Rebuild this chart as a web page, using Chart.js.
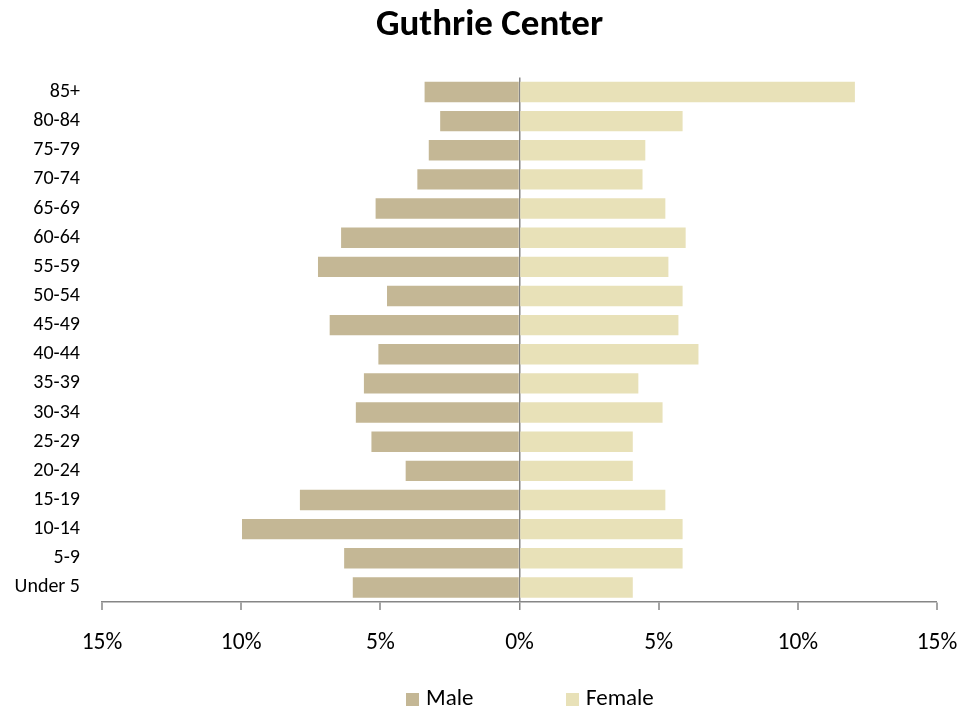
<!DOCTYPE html>
<html>
<head>
<meta charset="utf-8">
<script src="https://cdn.jsdelivr.net/npm/chart.js@4.4.1/dist/chart.umd.min.js"></script>
<style>
  html, body { margin: 0; padding: 0; background: #ffffff; }
  #wrap { width: 979px; height: 713px; }
</style>
</head>
<body>
<div id="wrap"><canvas id="c" width="979" height="713"></canvas></div>
<script>
const categories = ['85+', '80-84', '75-79', '70-74', '65-69', '60-64', '55-59', '50-54', '45-49', '40-44', '35-39', '30-34', '25-29', '20-24', '15-19', '10-14', '5-9', 'Under 5'];
const malePct = [3.41, 2.85, 3.26, 3.67, 5.17, 6.41, 7.24, 4.76, 6.82, 5.07, 5.59, 5.88, 5.32, 4.09, 7.89, 9.97, 6.30, 5.99];
const femalePct = [12.05, 5.86, 4.52, 4.42, 5.24, 5.97, 5.35, 5.86, 5.71, 6.43, 4.27, 5.14, 4.07, 4.07, 5.24, 5.86, 5.86, 4.07];
const xTicks = [-15, -10, -5, 0, 5, 10, 15];
const seriesNames = ['Male', 'Female'];
const seriesColors = ['#c4b795', '#e8e1b8'];
const titleText = 'Guthrie Center';

const FONT = "Carlito, Lato, 'Open Sans', sans-serif";

const customLegend = {
  id: 'customLegend',
  afterDraw(chart) {
    const ctx = chart.ctx;
    ctx.save();
    ctx.font = '23px ' + FONT;
    ctx.textBaseline = 'middle';
    ctx.textAlign = 'left';
    const starts = [406, 566];
    const yc = 699.5;
    seriesNames.forEach((name, i) => {
      ctx.fillStyle = seriesColors[i];
      ctx.fillRect(starts[i], yc - 6.5, 13, 13);
      ctx.fillStyle = '#000000';
      ctx.fillText(name, starts[i] + 20, yc);
    });
    ctx.restore();
  }
};

new Chart(document.getElementById('c'), {
  type: 'bar',
  data: {
    labels: categories,
    datasets: [
      { label: seriesNames[0], data: malePct.map(v => -v), backgroundColor: seriesColors[0], borderWidth: 0, categoryPercentage: 1.0, barPercentage: 0.70 },
      { label: seriesNames[1], data: femalePct, backgroundColor: seriesColors[1], borderWidth: 0, categoryPercentage: 1.0, barPercentage: 0.70 }
    ]
  },
  options: {
    indexAxis: 'y',
    responsive: false,
    animation: false,
    devicePixelRatio: 1,
    layout: { padding: { left: 0, right: 0, top: 0, bottom: 0 } },
    plugins: {
      legend: { display: false },
      tooltip: { enabled: false },
      title: {
        display: true,
        text: titleText,
        color: '#000000',
        font: { family: FONT, size: 37, weight: 'bold' },
        padding: { top: 4, bottom: 29 }
      }
    },
    scales: {
      x: {
        type: 'linear',
        min: -15,
        max: 15,
        afterBuildTicks: (scale) => { scale.ticks = xTicks.map(v => ({ value: v })); },
        afterFit: (scale) => { scale.height = 111; },
        ticks: {
          color: '#000000',
          font: { family: FONT, size: 23.5 },
          padding: 19,
          maxRotation: 0,
          callback: (v) => Math.abs(v) + '%'
        },
        grid: {
          drawOnChartArea: true,
          color: (ctx) => (ctx.tick && ctx.tick.value === 0) ? '#868686' : 'rgba(0,0,0,0)',
          lineWidth: (ctx) => (ctx.tick && ctx.tick.value === 0) ? 1.5 : 0,
          tickColor: '#868686',
          tickLength: 8,
          tickWidth: 1.5
        },
        border: { display: true, color: '#868686', width: 1.5 }
      },
      y: {
        stacked: true,
        afterFit: (scale) => { scale.width = 102; },
        ticks: {
          color: '#000000',
          font: { family: FONT, size: 20 },
          padding: 22,
          autoSkip: false
        },
        grid: { display: false, drawTicks: false },
        border: { display: false }
      },
      yRight: {
        type: 'category',
        position: 'right',
        display: true,
        afterFit: (scale) => { scale.width = 42; },
        ticks: { display: false },
        grid: { display: false, drawTicks: false },
        border: { display: false }
      }
    }
  },
  plugins: [customLegend]
});
</script>
</body>
</html>
